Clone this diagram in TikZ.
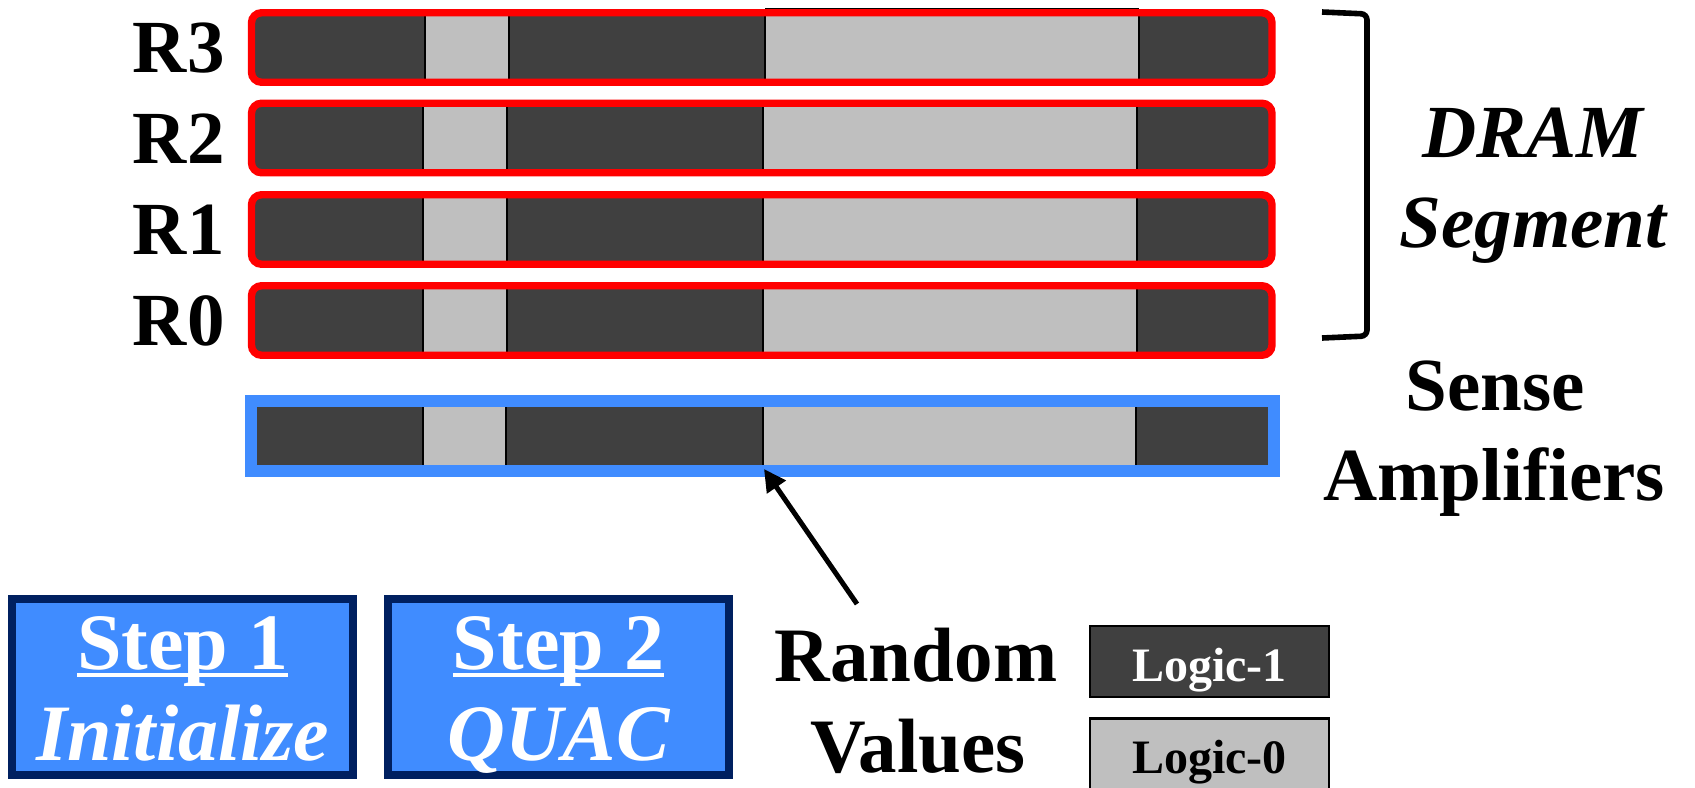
\documentclass[tikz,border=0pt]{standalone}
\usepackage{fontspec}
\setmainfont{Liberation Serif}
\usetikzlibrary{arrows.meta}

\definecolor{cellone}{HTML}{404040}
\definecolor{cellzero}{HTML}{BFBFBF}
\definecolor{rowred}{HTML}{FF0000}
\definecolor{sablue}{HTML}{408CFF}
\definecolor{stepnavy}{HTML}{002060}

% thick underline that the descenders cross
\newcommand\ulbar[1]{\setbox0\hbox{#1}\rlap{\rule[-4pt]{\wd0}{2pt}}\box0}
\newcommand\bigtype{\fontsize{37.5pt}{45pt}\selectfont\bfseries}
\newcommand\steptype{\fontsize{40pt}{48pt}\selectfont\bfseries}
\newcommand\legendtype{\fontsize{24pt}{29pt}\selectfont\bfseries}

\begin{document}
\begin{tikzpicture}[x=0.5pt,y=-0.5pt,
  rowbox/.style={rectangle, rounded corners=5pt, draw=rowred, line width=3.7pt,
    minimum width=510.25pt, minimum height=34.75pt, inner sep=0pt},
  sabox/.style={rectangle, draw=sablue, line width=6pt,
    minimum width=511.5pt, minimum height=35pt, inner sep=0pt},
  divider/.style={black, line width=1.1pt},
  rowlabel/.style={font=\bigtype, inner sep=0pt, anchor=base east},
  bigtext/.style={font=\bigtype, inner sep=0pt, anchor=base},
  stepbox/.style={rectangle, draw=stepnavy, fill=sablue, line width=4pt,
    minimum width=170.3pt, minimum height=87.75pt, inner sep=0pt},
  steptext/.style={font=\steptype, text=white, inner sep=0pt, anchor=base},
  legendbox/.style={rectangle, draw=black, line width=1.2pt,
    minimum width=119.5pt, minimum height=35.5pt, inner sep=0pt},
  legendtext/.style={font=\legendtype, inner sep=0pt, anchor=base},
  pointer/.style={line width=2.5pt, -{Triangle[length=11pt,width=11pt]}},
  bracket/.style={line width=2.8pt, rounded corners=3pt}
]
\useasboundingbox (0,0) rectangle (1695,787);

% DRAM rows: cells first, clipped to the rounded outline, then the outline
\foreach \name/\lab/\top/\bot/\a/\b/\c/\d in {
    r3/R3/13/82/425/509/765/1139,
    r2/R2/103/173/423/507/763/1137,
    r1/R1/195/264/423/507/763/1137,
    r0/R0/286/355/423/507/763/1137} {
  \begin{scope}
    \clip[rounded corners=5pt] (251.5,\top) rectangle (1272,\bot);
    \fill[cellone] (251.5,\top) rectangle (1272,\bot);
    \fill[cellzero] (\a,\top) rectangle (\b,\bot);
    \fill[cellzero] (\c,\top) rectangle (\d,\bot);
    \draw[divider] (\a,\top) -- (\a,\bot) (\b,\top) -- (\b,\bot)
                   (\c,\top) -- (\c,\bot) (\d,\top) -- (\d,\bot);
  \end{scope}
  \node[rowbox] (\name) at (761.75,{(\top+\bot)/2}) {};
  \node[rowlabel] (\name-label) at (225,{(\top+\bot)/2+25}) {\lab};
}
\draw[black, line width=0.6pt] (765,8.5) -- (1139,8.5);

% sense amplifier row
\fill[cellone] (250.5,401) rectangle (1273.5,471);
\fill[cellzero] (423,401) rectangle (506,471);
\fill[cellzero] (763,401) rectangle (1136,471);
\draw[divider] (423,401) -- (423,471) (506,401) -- (506,471)
               (763,401) -- (763,471) (1136,401) -- (1136,471);
\node[sabox] (sa) at (762,436) {};

% bracket and side labels
\draw[bracket] (1322,12) -- (1367,14) -- (1367,336) -- (1322,338);
\node[bigtext, font=\bigtype\itshape] (dram) at (1533,157) {DRAM};
\node[bigtext, font=\bigtype\itshape] (segment) at (1533,247) {Segment};
\node[bigtext] (sense) at (1495,410) {Sense};
\node[bigtext] (amps) at (1494,500) {Amplifiers};

% random values and the pointer into the sense amplifiers
\node[bigtext, font=\fontsize{38.5pt}{46pt}\selectfont\bfseries] (random) at (916,681) {Random};
\node[bigtext, font=\fontsize{38.5pt}{46pt}\selectfont\bfseries] (values) at (918,772) {Values};
\coordinate (tail) at (857,604);
\coordinate (tip) at (764,469);
\draw[pointer] (tail) -- (tip);

% steps
\node[stepbox] (step1) at (182.7,686.75) {};
\node[steptext] (step1-title) at (182.7,669) {\ulbar{Step 1}};
\node[steptext, font=\steptype\itshape] (step1-name) at (182.7,760) {Initialize};
\node[stepbox] (step2) at (558.5,686.75) {};
\node[steptext] (step2-title) at (558.5,669) {\ulbar{Step 2}};
\node[steptext, font=\steptype\itshape] (step2-name) at (558.5,760) {QUAC};

% legend
\node[legendbox, fill=cellone] (logic1) at (1209.5,661.5) {};
\node[legendtext, text=white] (logic1-text) at (1209.5,681) {Logic-1};
\node[legendbox, fill=cellzero] (logic0) at (1209.5,754) {};
\node[legendtext] (logic0-text) at (1209.5,773) {Logic-0};
\end{tikzpicture}
\end{document}
